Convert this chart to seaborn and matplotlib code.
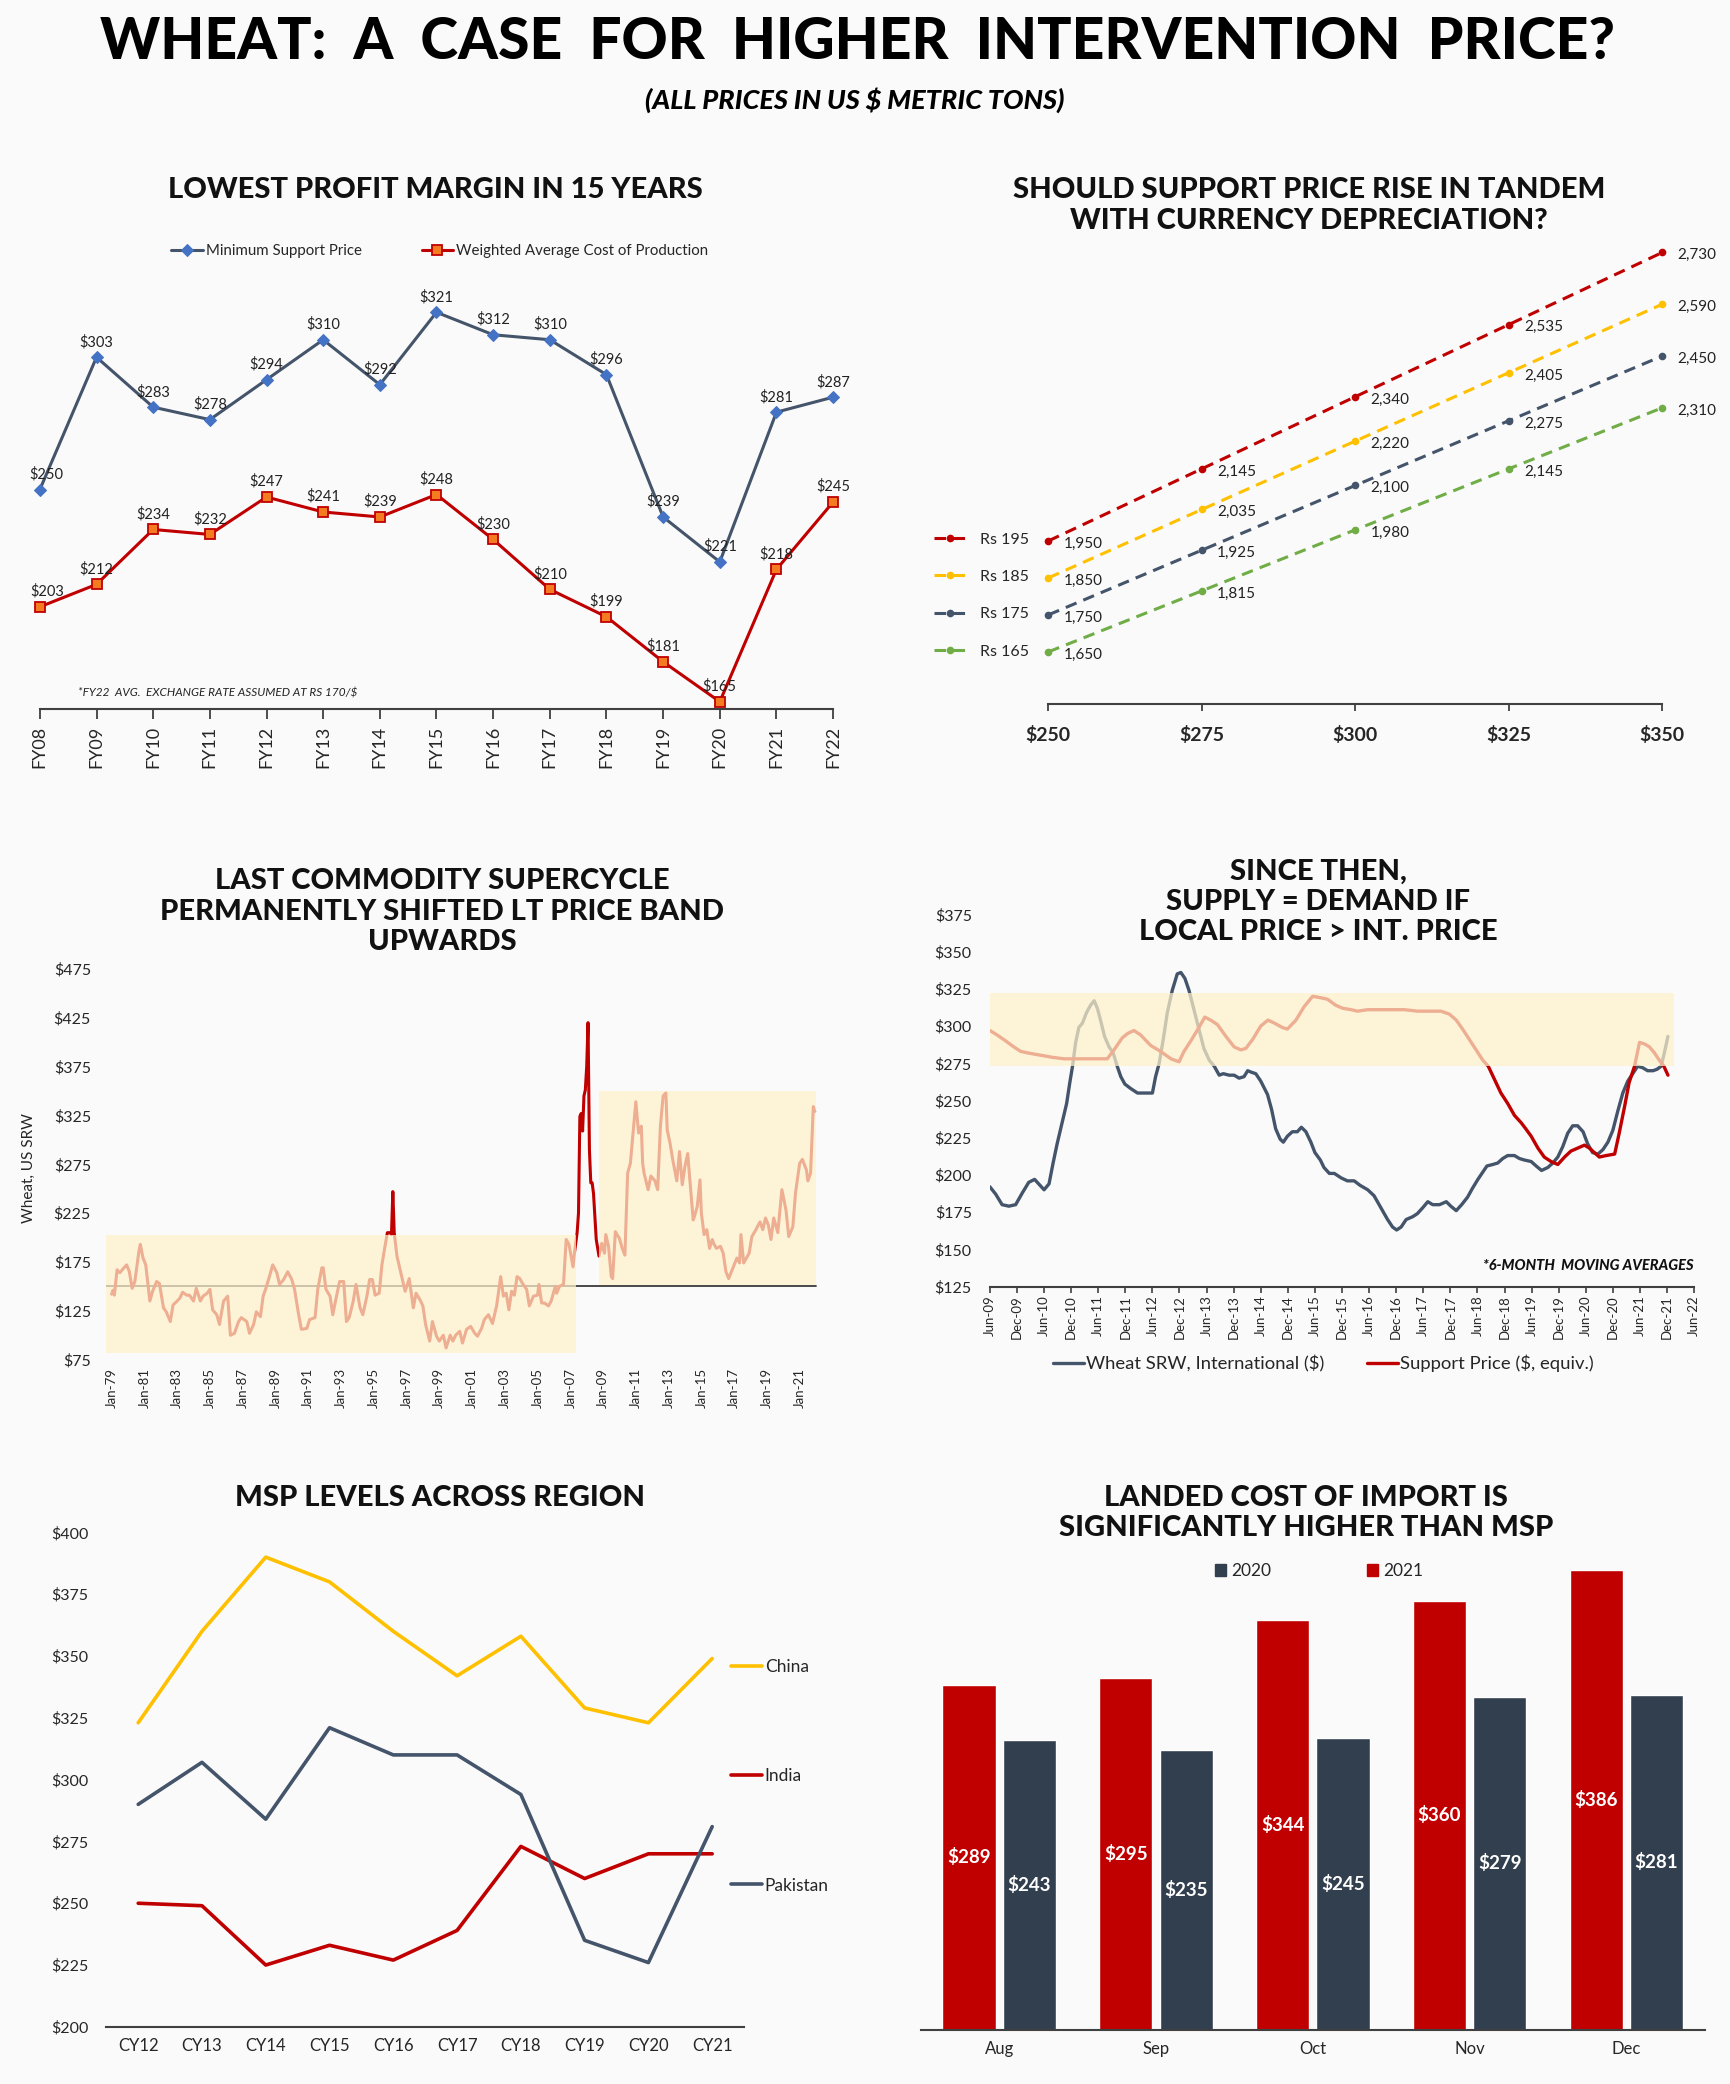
import numpy as np
import pandas as pd
import matplotlib
matplotlib.use("Agg")
import matplotlib.pyplot as plt
from matplotlib.ticker import FuncFormatter
from matplotlib.patches import Patch
import seaborn as sns

# ---------------- data ----------------
# 1. lowest profit margin
fy_labels = ["FY08", "FY09", "FY10", "FY11", "FY12", "FY13", "FY14", "FY15",
             "FY16", "FY17", "FY18", "FY19", "FY20", "FY21", "FY22"]
msp_usd = [250, 303, 283, 278, 294, 310, 292, 321, 312, 310, 296, 239, 221, 281, 287]
cost_usd = [203, 212, 234, 232, 247, 241, 239, 248, 230, 210, 199, 181, 165, 218, 245]

# 2. support price vs currency
intl_price = [250, 275, 300, 325, 350]
rs_labels = ["Rs 195", "Rs 185", "Rs 175", "Rs 165"]
msp_rs195 = [1950, 2145, 2340, 2535, 2730]
msp_rs185 = [1850, 2035, 2220, 2405, 2590]
msp_rs175 = [1750, 1925, 2100, 2275, 2450]
msp_rs165 = [1650, 1815, 1980, 2145, 2310]

# 3. supercycle (months since Jan-79, US$/t)
sc_month = [0, 1, 2, 4, 6, 9, 11, 13, 15, 17, 20, 21, 23, 25, 27, 28, 30, 33, 35, 38,
            40, 43, 45, 48, 50, 52, 55, 57, 60, 62, 65, 67, 70, 72, 74, 77, 79, 82, 85, 87,
            90, 93, 95, 99, 101, 104, 106, 109, 111, 113, 116, 118, 121, 123, 126, 129, 132, 134, 137, 139,
            143, 145, 149, 151, 154, 155, 157, 160, 162, 164, 167, 170, 172, 174, 177, 179, 182, 184, 187, 189,
            191, 193, 196, 198, 200, 202, 204, 205, 206, 207, 209, 211, 213, 215, 218, 221, 223, 226, 228, 230,
            233, 235, 238, 240, 243, 245, 248, 250, 252, 255, 257, 260, 263, 266, 268, 271, 273, 276, 279, 282,
            284, 285, 287, 289, 291, 293, 295, 297, 299, 301, 304, 306, 309, 312, 313, 315, 317, 320, 322, 325,
            326, 328, 331, 333, 335, 338, 339, 341, 342, 343, 344, 345, 346, 347, 348, 349, 350, 351, 352, 353,
            355, 357, 359, 361, 362, 364, 366, 367, 369, 372, 374, 376, 378, 380, 382, 384, 386, 388, 389, 390,
            393, 395, 398, 400, 402, 404, 406, 407, 409, 411, 414, 416, 418, 420, 422, 424, 426, 427, 429, 431,
            432, 434, 436, 438, 440, 441, 443, 446, 448, 450, 452, 454, 456, 458, 460, 461, 463, 465, 467, 469,
            472, 473, 475, 477, 479, 481, 483, 485, 488, 491, 494, 496, 499, 501, 504, 506, 509, 510, 512, 514,
            515]
sc_price = [142, 146, 141, 167, 164, 169, 172, 165, 148, 155, 186, 193, 179, 172, 147, 135, 145, 155, 153, 128,
            124, 114, 131, 135, 138, 144, 141, 141, 135, 148, 135, 140, 143, 147, 126, 121, 111, 135, 140, 100,
            102, 114, 118, 114, 102, 111, 124, 119, 140, 148, 162, 172, 164, 152, 157, 165, 157, 147, 121, 106,
            107, 116, 118, 147, 169, 169, 147, 140, 121, 135, 155, 155, 114, 118, 135, 152, 128, 121, 140, 157,
            157, 141, 143, 172, 189, 205, 205, 203, 247, 205, 181, 169, 157, 145, 158, 128, 143, 136, 130, 111,
            94, 114, 99, 94, 100, 87, 100, 94, 100, 104, 92, 106, 109, 102, 99, 107, 116, 121, 112, 130,
            150, 160, 140, 143, 126, 145, 141, 160, 158, 153, 147, 130, 140, 141, 152, 133, 133, 130, 135, 150,
            143, 150, 152, 198, 193, 170, 184, 205, 225, 324, 327, 309, 345, 351, 375, 420, 290, 256, 256, 245,
            198, 181, 194, 184, 203, 191, 160, 158, 206, 199, 189, 182, 266, 276, 307, 339, 307, 314, 276, 266,
            249, 263, 258, 249, 314, 345, 348, 310, 297, 280, 258, 288, 254, 273, 286, 252, 218, 222, 232, 259,
            225, 203, 208, 189, 198, 194, 189, 191, 184, 165, 158, 165, 172, 179, 174, 203, 174, 179, 184, 201,
            208, 211, 216, 208, 220, 213, 198, 220, 205, 249, 228, 201, 211, 246, 276, 280, 269, 258, 266, 334,
            329]
sc_ticks = ["Jan-79", "Jan-81", "Jan-83", "Jan-85", "Jan-87", "Jan-89", "Jan-91", "Jan-93",
            "Jan-95", "Jan-97", "Jan-99", "Jan-01", "Jan-03", "Jan-05", "Jan-07", "Jan-09",
            "Jan-11", "Jan-13", "Jan-15", "Jan-17", "Jan-19", "Jan-21"]
old_band_months = [-4, 340]
old_band_range = [82, 203]
new_band_months = [357, 516]
new_band_range = [151, 350]
sc_floor = 150

# 4. since then (months since Jun-09, 6m moving averages)
srw_month = [0, 1.3, 2.7, 4.2, 5.7, 7.2, 8.6, 9.9, 11.1, 12, 13.1, 14, 14.9, 16, 17, 17.7, 18.3, 19, 19.7, 20.5,
             21.4, 22.3, 23.1, 23.8, 24.5, 25.4, 26.4, 27.3, 28.2, 29, 29.9, 31.2, 32.7, 34.1, 36, 36.7, 37.5, 38.4, 39.3, 40.4,
             41.5, 42.3, 43.2, 44.1, 45.2, 46.3, 47.4, 48.6, 49.7, 50.8, 51.7, 53, 54.1, 55.2, 56.3, 57.1, 57.9, 58.9, 60, 61.5,
             62.4, 63.3, 64.3, 65, 65.9, 67, 68.1, 69, 70, 71.1, 72, 73.2, 74, 75.2, 76.3, 77.8, 79.2, 80.7, 82, 83.7,
             85.1, 86.6, 88.1, 89.2, 90.1, 91.1, 92.2, 93.7, 94.7, 95.9, 97, 98.1, 99.6, 101.1, 102.1, 103.3, 104.5, 105.8, 106.9, 108.1,
             109.2, 110.1, 111.4, 112.5, 113.6, 114.7, 116.2, 117.3, 118.4, 119.9, 121, 122.2, 123.6, 124.7, 125.8, 126.9, 128, 129.1, 130.2, 131.4,
             132.4, 133.5, 134.7, 135.8, 136.9, 138, 139.1, 140.2, 141.3, 142.4, 143.5, 144.6, 145.7, 146.9, 147.8, 148.7, 149.4, 150.2]
srw_price = [192, 187, 180, 179, 180, 188, 195, 197, 193, 190, 194, 208, 221, 235, 248, 262, 273, 289, 299, 302,
             309, 314, 317, 312, 304, 293, 286, 282, 273, 266, 261, 258, 255, 255, 255, 266, 275, 291, 309, 324,
             335, 336, 332, 324, 311, 298, 285, 277, 273, 267, 268, 267, 267, 265, 266, 270, 269, 268, 263, 254,
             244, 231, 224, 222, 226, 229, 229, 232, 229, 222, 215, 210, 205, 201, 201, 198, 196, 196, 193, 190,
             186, 178, 170, 165, 163, 165, 170, 172, 174, 178, 182, 180, 180, 182, 179, 176, 180, 185, 191, 197,
             202, 206, 207, 208, 211, 213, 213, 211, 210, 209, 206, 203, 205, 208, 212, 219, 228, 233, 233, 229,
             221, 215, 214, 217, 222, 230, 243, 255, 263, 268, 273, 272, 270, 270, 271, 273, 282, 293]
sp_month = [0, 1.6, 3.5, 5.3, 6.8, 8.3, 10.1, 12, 13.8, 16.4, 18.6, 21.6, 24.2, 26, 27.5, 29.3, 30.5, 31.9, 33.4, 35.6,
            37.8, 40.1, 41.9, 43, 44.5, 46.3, 47.6, 48.9, 50.4, 52.3, 54.1, 55.6, 56.7, 58.2, 60, 61.6, 63, 64.8, 65.9, 67.8,
            69.6, 71.5, 73.3, 74.8, 76.6, 78.1, 80, 81.4, 83.7, 87.4, 91.8, 94.7, 97.7, 99.9, 101.8, 103.3, 104.7, 106.2, 107.7, 109.2,
            110.4, 111.8, 113.2, 114.7, 116.2, 117.7, 118.7, 119.9, 121.4, 122.8, 124.3, 125.8, 127.3, 128.7, 130.2, 131.7, 132.8, 133.9, 135, 136.5,
            138.4, 139.4, 140.6, 141.6, 142.8, 143.9, 145, 146.1, 147.2, 148.3, 149.3, 150.2]
sp_price = [297, 294, 290, 286, 283, 282, 281, 280, 279, 278, 278, 278, 278, 278, 284, 292, 295, 297, 294, 287,
            283, 278, 276, 283, 290, 299, 306, 304, 301, 293, 286, 284, 285, 291, 300, 304, 302, 299, 298, 304,
            313, 320, 319, 318, 314, 312, 311, 310, 311, 311, 311, 310, 310, 310, 308, 304, 298, 291, 284, 277,
            273, 264, 255, 248, 240, 235, 231, 226, 218, 212, 209, 207, 212, 216, 218, 220, 218, 215, 212, 213,
            214, 228, 246, 262, 273, 289, 288, 286, 282, 277, 273, 267]
ma_ticks = ["Jun-09", "Dec-09", "Jun-10", "Dec-10", "Jun-11", "Dec-11", "Jun-12", "Dec-12", "Jun-13",
            "Dec-13", "Jun-14", "Dec-14", "Jun-15", "Dec-15", "Jun-16", "Dec-16", "Jun-17", "Dec-17",
            "Jun-18", "Dec-18", "Jun-19", "Dec-19", "Jun-20", "Dec-20", "Jun-21", "Dec-21", "Jun-22"]
ma_band_months = [0, 151.5]
ma_band_range = [273, 322]

# 5. MSP across region
cy_labels = ["CY12", "CY13", "CY14", "CY15", "CY16", "CY17", "CY18", "CY19", "CY20", "CY21"]
msp_china = [323, 360, 390, 380, 360, 342, 358, 329, 323, 349]
msp_india = [250, 249, 225, 233, 227, 239, 273, 260, 270, 270]
msp_pakistan = [290, 307, 284, 321, 310, 310, 294, 235, 226, 281]

# 6. landed cost of import
landed_months = ["Aug", "Sep", "Oct", "Nov", "Dec"]
landed_2021 = [289, 295, 344, 360, 386]
landed_2020 = [243, 235, 245, 279, 281]

# ---------------- style ----------------
RED = "#C00000"
SLATE = "#44546A"
NAVY = "#323F4F"
GOLD = "#FFC000"
GREEN = "#70AD47"
CREAM = "#FFF2CC"
BG = "#FAFAFA"

sns.set_theme(style="white")
plt.rcParams["font.family"] = ["Lato", "DejaVu Sans"]
plt.rcParams["axes.facecolor"] = "none"

fig = plt.figure(figsize=(17.3, 20.84), dpi=100, facecolor=BG)

# layout grid measured on the reference (1302 x 1568 units)
W, H = 1302.0, 1568.0


def box(l, t, r, b):
    return [l / W, 1 - b / H, (r - l) / W, (b - t) / H]


def ftext(x, y, s, **kw):
    fig.text(x / W, 1 - y / H, s, **kw)


def clean(ax, keep_bottom=True):
    for sp in ["top", "right", "left"]:
        ax.spines[sp].set_visible(False)
    ax.spines["bottom"].set_visible(keep_bottom)
    ax.spines["bottom"].set_color("#404040")
    ax.spines["bottom"].set_linewidth(1.5)


dollar = FuncFormatter(lambda v, _: f"${v:.0f}")
TITLE = dict(fontsize=21, fontweight="black", ha="center", va="center", color="#111111")

# ---------------- titles ----------------
ftext(645, 32, "WHEAT:  A  CASE  FOR  HIGHER  INTERVENTION  PRICE?", fontsize=41,
      fontweight="black", ha="center", va="center", color="black")
ftext(643, 75, "(ALL PRICES IN US $ METRIC TONS)", fontsize=19.5, fontweight="black",
      fontstyle="italic", ha="center", va="center", color="black")

# ---------------- panel 1 ----------------
ax1 = fig.add_axes(box(30, 180.5, 627, 533.6))
xs = np.arange(len(fy_labels))
sns.lineplot(x=xs, y=msp_usd, ax=ax1, color=SLATE, lw=2.2, marker="D", markersize=6,
             markerfacecolor="#4472C4", markeredgecolor="#4472C4", clip_on=False,
             label="Minimum Support Price")
sns.lineplot(x=xs, y=cost_usd, ax=ax1, color=RED, lw=2.2, marker="s", markersize=7,
             markerfacecolor="#F47B20", markeredgecolor=RED, markeredgewidth=1.3, clip_on=False,
             label="Weighted Average Cost of Production")
for series in (msp_usd, cost_usd):
    for i, v in enumerate(series):
        dx = 5 if i == 0 else 0
        ax1.annotate(f"${v}", (i, v), xytext=(dx, 11), textcoords="offset points",
                     ha="center", va="center", fontsize=10.5, color="#222222")
ax1.set_xlim(0, 14)
ax1.set_ylim(162, 350)
ax1.set_xticks(xs)
ax1.set_xticklabels(fy_labels, rotation=90, fontsize=13)
ax1.set_yticks([])
ax1.tick_params(axis="x", bottom=True, length=7, width=1.3, color="#404040", pad=5)
clean(ax1)
ax1.legend(loc="center", bbox_to_anchor=(331 / W, 1 - 189 / H), bbox_transform=fig.transFigure,
           ncol=2, frameon=False, fontsize=10.8, handlelength=2.1, columnspacing=4.0,
           handletextpad=0.2)
ax1.text(0.048, 0.035, "*FY22  AVG.  EXCHANGE RATE ASSUMED AT RS 170/$", transform=ax1.transAxes,
         fontsize=8.5, fontstyle="italic", color="#222222", ha="left", va="center")
ftext(328, 143, "LOWEST PROFIT MARGIN IN 15 YEARS", **TITLE)

# ---------------- panel 2 ----------------
ax2 = fig.add_axes(box(789, 170.5, 1251, 529.4))
for lab, vals, col in zip(rs_labels, [msp_rs195, msp_rs185, msp_rs175, msp_rs165],
                          [RED, GOLD, SLATE, GREEN]):
    sns.lineplot(x=intl_price, y=vals, ax=ax2, color=col, lw=2.2, linestyle=(0, (3.8, 2.4)),
                 marker="o", markersize=5.5, markeredgewidth=0, clip_on=False, label=lab)
    for x, v in zip(intl_price, vals):
        ax2.annotate(f"{v:,}", (x, v), xytext=(11, -2), textcoords="offset points",
                     ha="left", va="center", fontsize=11, color="#222222")
ax2.set_xlim(250, 350)
ax2.set_ylim(1510, 2800)
ax2.set_xticks(intl_price)
ax2.xaxis.set_major_formatter(dollar)
ax2.set_yticks([])
ax2.tick_params(axis="x", bottom=True, length=5, width=1.3, color="#404040", pad=11,
                labelsize=14)
for t in ax2.get_xticklabels():
    t.set_fontweight("bold")
clean(ax2)
ax2.legend(loc="center left", bbox_to_anchor=(703 / W, 1 - 448 / H), bbox_transform=fig.transFigure,
           frameon=False, fontsize=11.5, handlelength=2.0, labelspacing=1.45, handletextpad=0.9,
           borderpad=0, borderaxespad=0)
ftext(985, 143, "SHOULD SUPPORT PRICE RISE IN TANDEM", **TITLE)
ftext(985, 166, "WITH CURRENCY DEPRECIATION?", **TITLE)

# ---------------- panel 3 ----------------
ax3 = fig.add_axes(box(79.9, 729, 616.2, 1023))
ax3.plot([old_band_months[0], new_band_months[1]], [sc_floor, sc_floor], color="#3A3A3A",
         lw=1.3, zorder=1)
sns.lineplot(x=sc_month, y=sc_price, ax=ax3, color=RED, lw=2.2, zorder=2)
ax3.fill_between(old_band_months, old_band_range[0], old_band_range[1], color=CREAM,
                 alpha=0.72, lw=0, zorder=3)
ax3.fill_between(new_band_months, new_band_range[0], new_band_range[1], color=CREAM,
                 alpha=0.72, lw=0, zorder=3)
ax3.set_xlim(-4, 518)
ax3.set_ylim(75, 475)
ax3.set_yticks(np.arange(75, 476, 50))
ax3.yaxis.set_major_formatter(dollar)
ax3.set_xticks(np.arange(len(sc_ticks)) * 24)
ax3.set_xticklabels(sc_ticks, rotation=90, fontsize=9.5)
ax3.tick_params(axis="y", labelsize=11.5, pad=11, length=0)
ax3.tick_params(axis="x", length=0, pad=6)
clean(ax3, keep_bottom=False)
ax3.set_ylabel("Wheat, US SRW", fontsize=11)
ax3.yaxis.set_label_coords(-0.099, 0.49)
for i, line in enumerate(["LAST COMMODITY SUPERCYCLE", "PERMANENTLY SHIFTED LT PRICE BAND",
                          "UPWARDS"]):
    ftext(333, 663 + 23 * i, line, **TITLE)

# ---------------- panel 4 ----------------
ax4 = fig.add_axes(box(745, 688, 1275, 968))
sns.lineplot(x=srw_month, y=srw_price, ax=ax4, color=SLATE, lw=2.4, zorder=2,
             label="Wheat SRW, International ($)")
sns.lineplot(x=sp_month, y=sp_price, ax=ax4, color=RED, lw=2.4, zorder=2,
             label="Support Price ($, equiv.)")
ax4.fill_between(ma_band_months, ma_band_range[0], ma_band_range[1], color=CREAM,
                 alpha=0.72, lw=0, zorder=3)
ax4.set_xlim(0, 156)
ax4.set_ylim(125, 375)
ax4.set_yticks(np.arange(125, 376, 25))
ax4.yaxis.set_major_formatter(dollar)
ax4.set_xticks(np.arange(len(ma_ticks)) * 6)
ax4.set_xticklabels(ma_ticks, rotation=90, fontsize=9.5)
ax4.tick_params(axis="y", labelsize=11.5, pad=13, length=0)
ax4.tick_params(axis="x", bottom=True, length=4, width=1.2, color="#404040", pad=2)
clean(ax4)
ax4.legend(loc="center", bbox_to_anchor=(996 / W, 1 - 1026 / H), bbox_transform=fig.transFigure,
           ncol=2, frameon=False, fontsize=13.3, handlelength=1.7, columnspacing=2.3,
           handletextpad=0.1)
ax4.text(1.0, 0.055, "*6-MONTH  MOVING AVERAGES", transform=ax4.transAxes, fontsize=10.5,
         fontweight="black", fontstyle="italic", ha="right", va="center", color="#111111")
for i, line in enumerate(["SINCE THEN,", "SUPPLY = DEMAND IF", "LOCAL PRICE > INT. PRICE"]):
    ftext(992, 656 + 22.5 * i, line, **TITLE)

# ---------------- panel 5 ----------------
ax5 = fig.add_axes(box(80, 1153, 560, 1525))
cx = np.arange(len(cy_labels))
for lab, vals, col in zip(["China", "India", "Pakistan"], [msp_china, msp_india, msp_pakistan],
                          [GOLD, RED, SLATE]):
    sns.lineplot(x=cx, y=vals, ax=ax5, color=col, lw=2.6, label=lab)
ax5.set_xlim(-0.5, 9.5)
ax5.set_ylim(200, 400)
ax5.set_yticks(np.arange(200, 401, 25))
ax5.yaxis.set_major_formatter(dollar)
ax5.set_xticks(cx)
ax5.set_xticklabels(cy_labels, fontsize=12)
ax5.tick_params(axis="y", labelsize=11.5, pad=13, length=0)
ax5.tick_params(axis="x", length=0, pad=8)
clean(ax5)
ax5.legend(loc="center left", bbox_to_anchor=(550 / W, 1 - 1336.5 / H), bbox_transform=fig.transFigure,
           frameon=False, fontsize=12.5, handlelength=1.8, labelspacing=5.37, handletextpad=0.15,
           borderpad=0, borderaxespad=0)
ftext(331, 1127, "MSP LEVELS ACROSS REGION", **TITLE)

# ---------------- panel 6 ----------------
ax6 = fig.add_axes(box(693, 1159.6, 1283, 1527))
df6 = pd.DataFrame({
    "month": landed_months * 2,
    "cost": landed_2021 + landed_2020,
    "year": ["2021"] * len(landed_months) + ["2020"] * len(landed_months),
})
sns.barplot(data=df6, x="month", y="cost", hue="year", hue_order=["2021", "2020"],
            palette={"2021": RED, "2020": NAVY}, width=0.77, gap=0.12, saturation=1,
            legend=False, ax=ax6)
for cont, vals in zip(ax6.containers, [landed_2021, landed_2020]):
    ax6.bar_label(cont, labels=[f"${v}" for v in vals], label_type="center", color="white",
                  fontweight="bold", fontsize=13.5)
ax6.set_xlim(-0.5, 4.5)
ax6.set_ylim(0, 410)
ax6.set_yticks([])
ax6.set_xlabel("")
ax6.set_ylabel("")
ax6.tick_params(axis="x", length=0, pad=8, labelsize=12)
clean(ax6)
ax6.legend(handles=[Patch(color=NAVY, label="2020"), Patch(color=RED, label="2021")],
           loc="center", bbox_to_anchor=(993 / W, 1 - 1182 / H), bbox_transform=fig.transFigure,
           ncol=2, frameon=False, fontsize=12.5, handlelength=0.65, handleheight=0.65,
           columnspacing=5.5, handletextpad=0.3)
ftext(983, 1127, "LANDED COST OF IMPORT IS", **TITLE)
ftext(983, 1150, "SIGNIFICANTLY HIGHER THAN MSP", **TITLE)

for ax in (ax1, ax2, ax3, ax4, ax5, ax6):
    ax.set_xlabel("")

fig.savefig("out.png", dpi=100, facecolor=BG)
